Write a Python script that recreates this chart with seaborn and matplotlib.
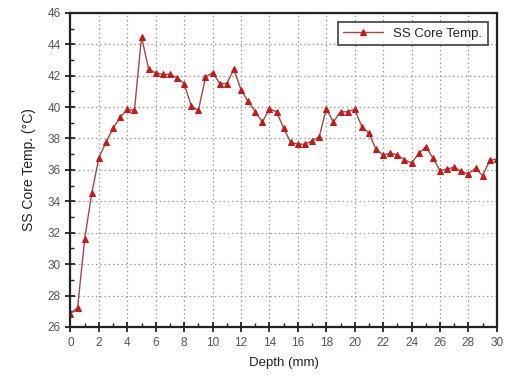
import pandas as pd
import matplotlib.pyplot as plt
import seaborn as sns
from matplotlib.ticker import MultipleLocator

# Depth positions (mm) and core temperature readings
depth = [0.0, 0.5, 1.0, 1.5, 2.0, 2.5, 3.0, 3.5, 4.0, 4.5,
         5.0, 5.5, 6.0, 6.5, 7.0, 7.5, 8.0, 8.5, 9.0, 9.5,
         10.0, 10.5, 11.0, 11.5, 12.0, 12.5, 13.0, 13.5, 14.0, 14.5,
         15.0, 15.5, 16.0, 16.5, 17.0, 17.5, 18.0, 18.5, 19.0, 19.5,
         20.0, 20.5, 21.0, 21.5, 22.0, 22.5, 23.0, 23.5, 24.0, 24.5,
         25.0, 25.5, 26.0, 26.5, 27.0, 27.5, 28.0, 28.5, 29.0, 29.5, 30.0]
core_temp = [26.85, 27.23, 31.6, 34.53, 36.77, 37.77, 38.66, 39.36, 39.85, 39.79,
             44.47, 42.4, 42.17, 42.09, 42.09, 41.87, 41.49, 40.06, 39.79, 41.9,
             42.2, 41.5, 41.5, 42.4, 41.1, 40.36, 39.7, 39.05, 39.9, 39.7,
             38.65, 37.75, 37.64, 37.64, 37.85, 38.1, 39.9, 39.05, 39.7, 39.7,
             39.85, 38.76, 38.34, 37.3, 36.95, 37.07, 36.95, 36.65, 36.44, 37.05,
             37.47, 36.76, 35.96, 36.06, 36.17, 35.9, 35.75, 36.1, 35.64, 36.6, 36.7]

df = pd.DataFrame({'Depth': depth, 'Temp': core_temp})

sns.set_style('white')
plt.rcParams['font.family'] = ['Liberation Sans', 'DejaVu Sans']

fig = plt.figure(figsize=(5.07, 3.78), dpi=100)
ax = fig.add_axes([0.139, 0.135, 0.841, 0.831])

sns.lineplot(data=df, x='Depth', y='Temp', ax=ax, color='#9c4a48', linewidth=1.0,
             marker='^', markersize=3.8, markerfacecolor='#c81818',
             markeredgecolor='#c81818', label='SS Core Temp.')

ax.set_xlim(0, 30)
ax.set_ylim(26, 46)
ax.xaxis.set_major_locator(MultipleLocator(2))
ax.xaxis.set_minor_locator(MultipleLocator(1))
ax.yaxis.set_major_locator(MultipleLocator(2))
ax.yaxis.set_minor_locator(MultipleLocator(1))

ax.grid(True, which='major', linestyle=(0, (1.2, 2.2)), color='#999999', linewidth=0.9)
ax.tick_params(which='major', direction='inout', length=7, width=1.3, color='#222222',
               labelsize=8.5, labelcolor='#555555', left=True, bottom=True)
ax.tick_params(which='minor', direction='in', length=3, width=1.0, color='#222222',
               left=True, bottom=True)
for sp in ax.spines.values():
    sp.set_color('#222222')
    sp.set_linewidth(1.6)

ax.set_xlabel('Depth (mm)', fontsize=9.5, color='#222222', labelpad=6)
ax.set_ylabel('SS Core Temp. (°C)', fontsize=10, color='#222222', labelpad=8)

leg = ax.legend(loc='upper right', fontsize=9.5, frameon=True, fancybox=False,
                handlelength=3, borderaxespad=0.7, borderpad=0.4)
leg.get_frame().set_edgecolor('#222222')
leg.get_frame().set_linewidth(1.3)

fig.savefig('out.png', dpi=100)
